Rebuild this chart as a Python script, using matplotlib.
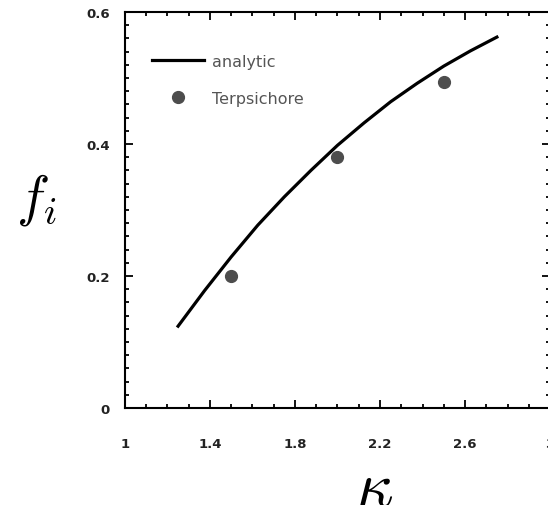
import matplotlib
matplotlib.use("Agg")
import matplotlib.pyplot as plt
from matplotlib.ticker import MultipleLocator

# analytic curve
kappa_line = [1.25, 1.375, 1.5, 1.625, 1.75, 1.875, 2.0,
              2.125, 2.25, 2.375, 2.5, 2.625, 2.75]
f_line = [0.124, 0.178, 0.229, 0.277, 0.320, 0.360, 0.398,
          0.432, 0.464, 0.492, 0.518, 0.541, 0.562]

# Terpsichore runs
kappa_pts = [1.5, 2.0, 2.5]
f_pts = [0.200, 0.380, 0.494]

xticks = [1, 1.4, 1.8, 2.2, 2.6, 3]
xlabels = ["1", "1.4", "1.8", "2.2", "2.6", "3"]
yticks = [0, 0.2, 0.4, 0.6]
ylabels = ["0", "0.2", "0.4", "0.6"]

plt.rcParams['mathtext.fontset'] = 'cm'

fig = plt.figure(figsize=(5.48, 5.06), dpi=100)
ax = fig.add_axes([0.228, 0.1917, 0.7757, 0.7826])

ax.plot(kappa_line, f_line, color='black', lw=2.3, label='analytic')
ax.plot(kappa_pts, f_pts, 'o', color='#4d4d4d', ms=8.5, label='Terpsichore')

ax.set_xlim(1, 3)
ax.set_ylim(0, 0.6)
ax.set_xticks(xticks)
ax.set_xticklabels(xlabels)
ax.set_yticks(yticks)
ax.set_yticklabels(ylabels)
ax.xaxis.set_minor_locator(MultipleLocator(0.1))
ax.yaxis.set_minor_locator(MultipleLocator(0.02))

for s in ax.spines.values():
    s.set_linewidth(1.5)
ax.tick_params(which='both', direction='in', top=True, right=True, width=1.3)
ax.tick_params(which='major', length=6)
ax.tick_params(which='minor', length=3)
ax.tick_params(axis='x', which='major', pad=21)
ax.tick_params(axis='y', which='major', pad=11)
for lab in ax.get_xticklabels() + ax.get_yticklabels():
    lab.set_fontsize(9.5)
    lab.set_fontweight('bold')
    lab.set_color('#222222')

leg = ax.legend(loc='upper left', bbox_to_anchor=(0.063, 0.895), frameon=False,
                fontsize=11.5, handlelength=3.3, handletextpad=0.5,
                labelspacing=1.4, borderpad=0, borderaxespad=0,
                numpoints=1)
for t in leg.get_texts():
    t.set_color('#555555')

fig.text(0.066, 0.605, r'$f_i$', fontsize=40, ha='center', va='center')
fig.text(0.684, 0.035, r'$\kappa$', fontsize=46, ha='center', va='center')

fig.savefig('out.png', dpi=100)
